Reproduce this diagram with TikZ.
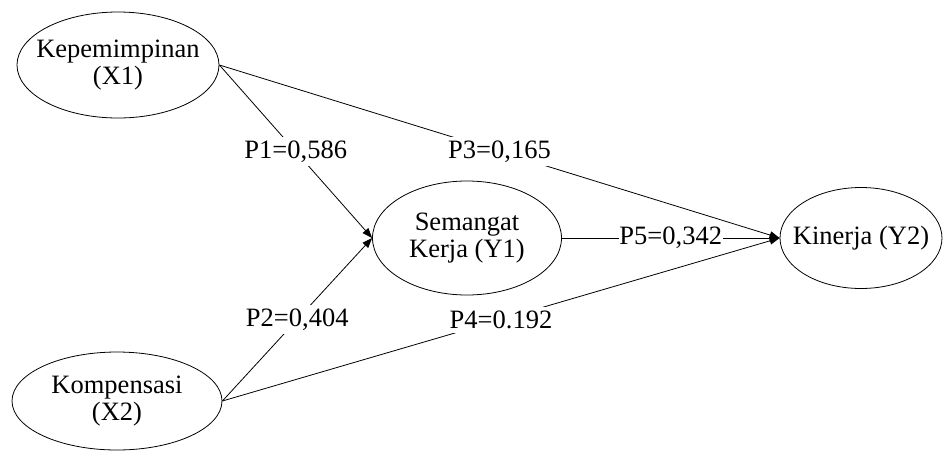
\documentclass[tikz,border=0pt]{standalone}
\usepackage{fontspec}
\setmainfont{Liberation Serif}
\usetikzlibrary{arrows.meta,shapes.geometric}
\begin{document}
\begin{tikzpicture}[x=1pt,y=-1pt,
  var/.style={draw, ellipse, inner sep=0pt, line width=0.8pt},
  txt/.style={inner sep=0pt, align=center, font=\fontsize{26.5}{27}\selectfont},
  lab/.style={fill=white, inner xsep=0.5pt, inner ysep=4pt,
    font=\fontsize{26.5}{27}\selectfont},
  arr/.style={line width=0.8pt, -{Triangle[length=10pt,width=7.5pt]}}]
\useasboundingbox (0,0) rectangle (943,451);
\node[var, minimum width=202pt, minimum height=106pt] (x1) at (118,65) {};
\node[txt] (x1t) at (x1) {Kepemimpinan\\(X1)};
\node[var, minimum width=210pt, minimum height=98pt] (x2) at (117,401) {};
\node[txt] (x2t) at (x2) {Kompensasi\\(X2)};
\node[var, minimum width=189pt, minimum height=114pt] (y1) at (467,238) {};
\node[txt] (y1t) at (y1) {Semangat\\Kerja (Y1)};
\node[var, minimum width=162pt, minimum height=101pt] (y2) at (861,238) {};
\node[txt] (y2t) at (y2) {Kinerja (Y2)};
\draw[arr] (x1.east) -- node[lab] {P1=0,586} (y1.west);
\draw[arr] (x2.east) -- node[lab] {P2=0,404} (y1.west);
\draw[arr] (x1.east) -- node[lab] {P3=0,165} (y2.west);
\draw[arr] (x2.east) -- node[lab] {P4=0.192} (y2.west);
\draw[arr] (y1.east) -- node[lab] {P5=0,342} (y2.west);
\end{tikzpicture}
\end{document}
